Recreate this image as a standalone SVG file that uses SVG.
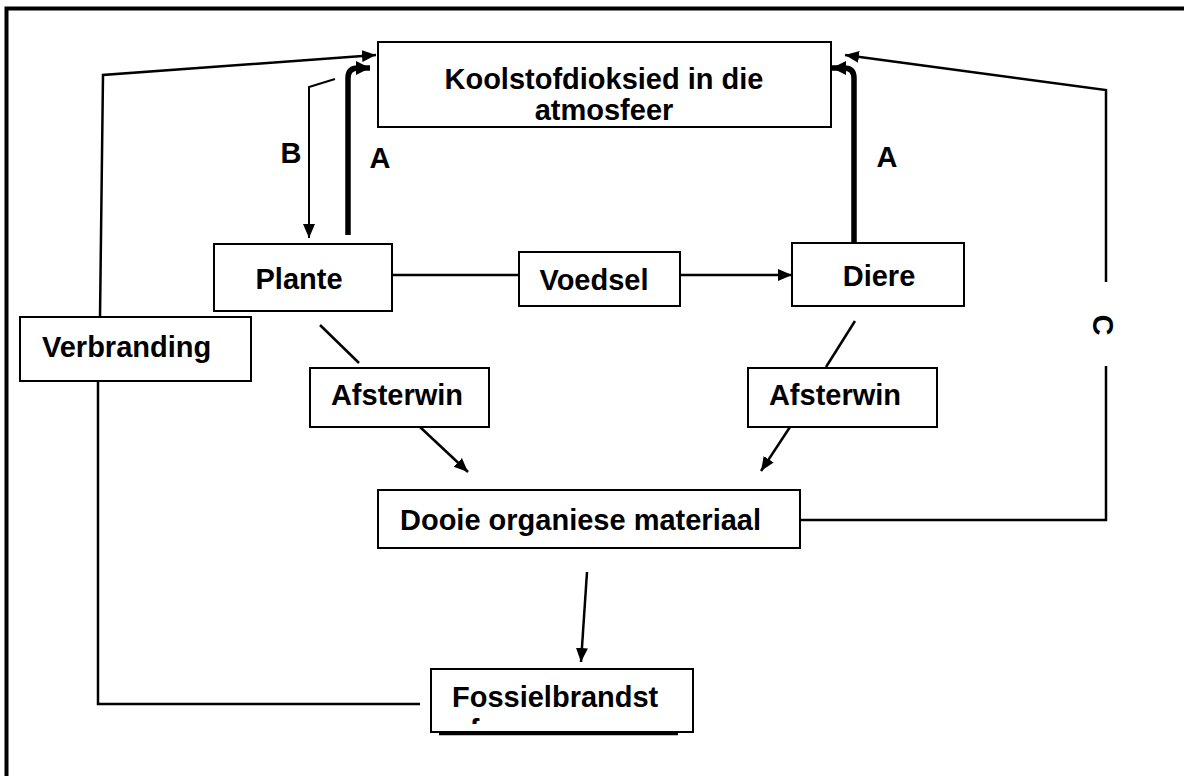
<svg xmlns="http://www.w3.org/2000/svg" width="1184" height="776" viewBox="0 0 1184 776">
<style>
.box{fill:#fff;stroke:#000;stroke-width:2}
.t{font-family:"Liberation Sans",Arial,sans-serif;font-weight:bold;font-size:29px;fill:#000}
.ln{fill:none;stroke:#000;stroke-width:2.5}
.thin{fill:none;stroke:#000;stroke-width:2}
.thick{fill:none;stroke:#000;stroke-width:5.5}
</style>
<defs>
<marker id="ah" markerUnits="userSpaceOnUse" markerWidth="16" markerHeight="14" refX="14" refY="7" orient="auto"><path d="M0,1 L14,7 L0,13 Z" fill="#000"/></marker>
<marker id="ahT" markerUnits="userSpaceOnUse" markerWidth="16" markerHeight="16" refX="14" refY="8" orient="auto"><path d="M0,1 L14,8 L0,15 Z" fill="#000"/></marker>
<clipPath id="fclip"><rect x="431" y="669" width="262" height="55"/></clipPath>
</defs>
<rect width="1184" height="776" fill="#fff"/>
<path d="M6.5,776 V8.5 H1184" fill="none" stroke="#000" stroke-width="4"/>
<g id="connectors">
<polyline class="ln" points="100,317 103,75 376,55" marker-end="url(#ah)"/>
<polyline class="thin" points="335,79 309,87 309,238" marker-end="url(#ah)"/>
<path class="thick" d="M348,235 V78 Q348,68 358,68 H370" marker-end="url(#ahT)"/>
<path class="thick" d="M854,243 V78 Q854,68 844,68 H832" marker-end="url(#ahT)"/>
<polyline class="ln" points="1106,282 1106,90 845,55" marker-end="url(#ah)"/>
<polyline class="ln" points="1106,366 1106,520 800,520"/>
<line class="ln" x1="392" y1="275" x2="519" y2="275"/>
<line class="ln" x1="680" y1="275" x2="792" y2="275" marker-end="url(#ah)"/>
<line class="ln" x1="320" y1="325" x2="359" y2="363"/>
<line class="ln" x1="420" y1="427" x2="468" y2="472" marker-end="url(#ah)"/>
<line class="ln" x1="855" y1="321" x2="826" y2="367"/>
<line class="ln" x1="790" y1="427" x2="761" y2="471" marker-end="url(#ah)"/>
<line class="ln" x1="587" y1="572" x2="581" y2="662" marker-end="url(#ah)"/>
<polyline class="ln" points="98,381 98,704 420,704"/>
</g>
<g id="labels">
<text class="t" x="291" y="163" text-anchor="middle" font-size="26">B</text>
<text class="t" x="380" y="168" text-anchor="middle" font-size="26">A</text>
<text class="t" x="887" y="167" text-anchor="middle" font-size="26">A</text>
<text class="t" x="0" y="0" text-anchor="middle" font-size="26" transform="translate(1093,325) rotate(90)">C</text>
</g>
<g id="co2">
<rect class="box" x="378" y="42" width="453" height="85"/>
<text class="t" x="604" y="89" text-anchor="middle">Koolstofdioksied in die</text>
<text class="t" x="604" y="120" text-anchor="middle">atmosfeer</text>
</g>
<g id="plante">
<rect class="box" x="214" y="244" width="178" height="67"/>
<text class="t" x="299" y="289" text-anchor="middle">Plante</text>
</g>
<g id="voedsel">
<rect class="box" x="519" y="252" width="161" height="54"/>
<text class="t" x="594" y="290" text-anchor="middle">Voedsel</text>
</g>
<g id="diere">
<rect class="box" x="792" y="243" width="172" height="63"/>
<text class="t" x="879" y="286" text-anchor="middle">Diere</text>
</g>
<g id="verbranding">
<rect class="box" x="20" y="317" width="231" height="64"/>
<text class="t" x="42" y="357">Verbranding</text>
</g>
<g id="afsterwin1">
<rect class="box" x="310" y="368" width="179" height="59"/>
<text class="t" x="397" y="405" text-anchor="middle">Afsterwin</text>
</g>
<g id="afsterwin2">
<rect class="box" x="748" y="368" width="189" height="59"/>
<text class="t" x="835" y="405" text-anchor="middle">Afsterwin</text>
</g>
<g id="dooie">
<rect class="box" x="378" y="490" width="422" height="58"/>
<text class="t" x="400" y="530">Dooie organiese materiaal</text>
</g>
<g id="fossiel">
<line x1="439" y1="734" x2="678" y2="734" stroke="#000" stroke-width="2.5"/>
<rect class="box" x="431" y="669" width="262" height="63"/>
<text class="t" x="452" y="707">Fossielbrandst</text>
<text class="t" x="452" y="740" clip-path="url(#fclip)">of</text>
</g>
</svg>
